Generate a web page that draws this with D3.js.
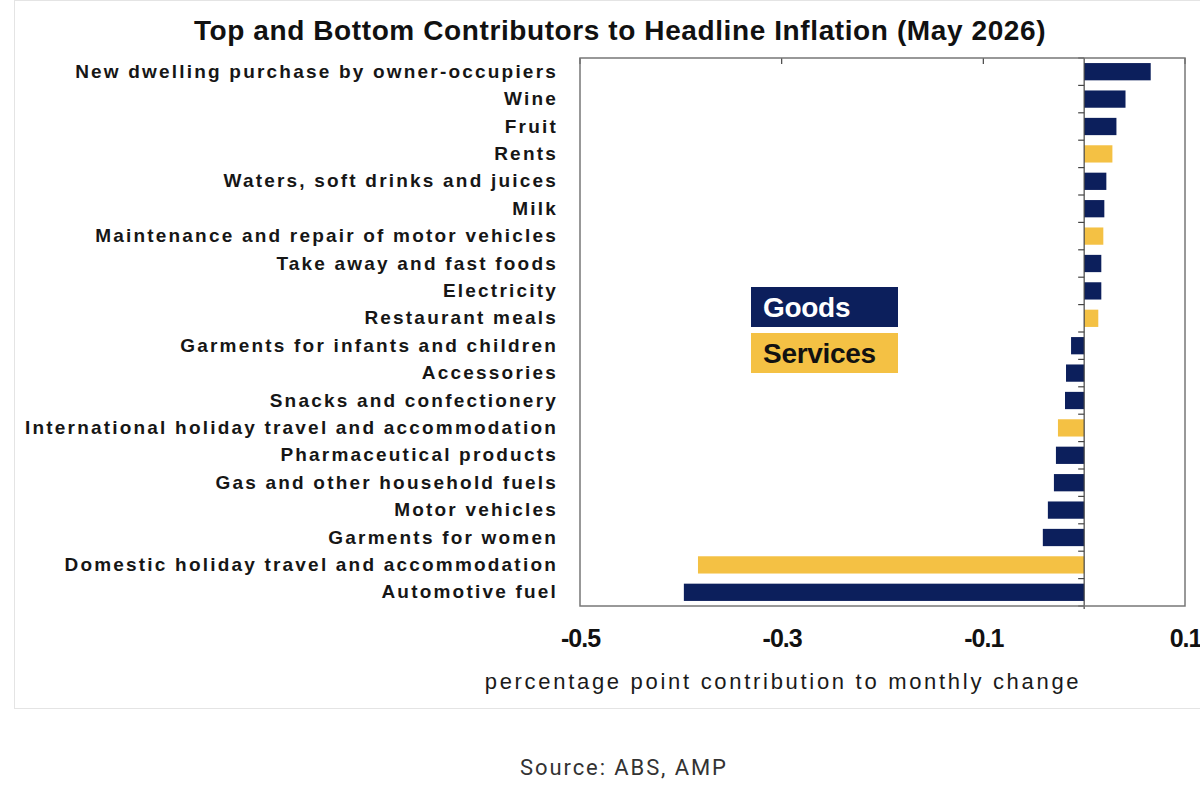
<!DOCTYPE html>
<html>
<head>
<meta charset="utf-8">
<script src="https://cdn.jsdelivr.net/npm/d3@7"></script>
<style>
  body { margin: 0; background: #fff; }
  svg text { font-family: "Liberation Sans", Arial, sans-serif; }
</style>
</head>
<body>
<div id="chart"></div>
<script>
// categories, top to bottom
var categories = [
  "New dwelling purchase by owner-occupiers", "Wine", "Fruit", "Rents",
  "Waters, soft drinks and juices", "Milk", "Maintenance and repair of motor vehicles",
  "Take away and fast foods", "Electricity", "Restaurant meals",
  "Garments for infants and children", "Accessories", "Snacks and confectionery",
  "International holiday travel and accommodation", "Pharmaceutical products",
  "Gas and other household fuels", "Motor vehicles", "Garments for women",
  "Domestic holiday travel and accommodation", "Automotive fuel"
];
var values = [0.066, 0.041, 0.032, 0.028, 0.022, 0.020, 0.019, 0.017, 0.017, 0.014,
  -0.013, -0.018, -0.019, -0.026, -0.028, -0.030, -0.036, -0.041, -0.383, -0.397];
var types = ["G", "G", "G", "S", "G", "G", "S", "G", "G", "S",
  "G", "G", "G", "S", "G", "G", "G", "G", "S", "G"];
var xTicks = [-0.5, -0.3, -0.1, 0.1];
var legendItems = ["Goods", "Services"];

var width = 1200, height = 786;
var margin = {top: 58, right: 15, bottom: 180, left: 580};
var navy = "#0c1f5c", gold = "#f4c144";

var data = categories.map(function(c, i) {
  return {cat: c, value: values[i], type: types[i]};
});

var svg = d3.select("#chart").append("svg")
  .attr("width", width)
  .attr("height", height);

// faint frame of the embedded image
svg.append("rect")
  .attr("x", 14.5).attr("y", 0.5)
  .attr("width", 1200).attr("height", 708)
  .attr("fill", "none").attr("stroke", "#e4e4e4");

var xScale = d3.scaleLinear()
  .domain([-0.5, 0.1])
  .range([margin.left, width - margin.right]);

var yScale = d3.scaleBand()
  .domain(categories)
  .range([margin.top, height - margin.bottom])
  .paddingInner(0.37)
  .paddingOuter(0.185);

// title
svg.append("text")
  .attr("x", 620).attr("y", 40)
  .attr("text-anchor", "middle")
  .attr("font-size", "28px")
  .attr("font-weight", "bold")
  .attr("fill", "#111")
  .attr("letter-spacing", "0.6px")
  .text("Top and Bottom Contributors to Headline Inflation (May 2026)");

// bars
svg.selectAll(".bar")
  .data(data)
  .enter()
  .append("rect")
  .attr("class", "bar")
  .attr("x", function(d) { return xScale(Math.min(0, d.value)); })
  .attr("y", function(d) { return yScale(d.cat); })
  .attr("width", function(d) { return Math.abs(xScale(d.value) - xScale(0)); })
  .attr("height", yScale.bandwidth())
  .attr("fill", function(d) { return d.type == "G" ? navy : gold; });

// zero line with small ticks between categories
var yTickPos = d3.range(categories.length + 1).map(function(i) {
  return margin.top + i * (height - margin.bottom - margin.top) / categories.length;
});
svg.append("line")
  .attr("x1", xScale(0)).attr("x2", xScale(0))
  .attr("y1", margin.top).attr("y2", height - margin.bottom + 3)
  .attr("stroke", "#444").attr("stroke-width", 1.2);
svg.selectAll(".ytick")
  .data(yTickPos)
  .enter()
  .append("line")
  .attr("class", "ytick")
  .attr("x1", xScale(0) - 6).attr("x2", xScale(0))
  .attr("y1", function(d) { return d; }).attr("y2", function(d) { return d; })
  .attr("stroke", "#444").attr("stroke-width", 1.2);

// top ticks
svg.selectAll(".xtick")
  .data(xTicks)
  .enter()
  .append("line")
  .attr("class", "xtick")
  .attr("x1", function(d) { return xScale(d); })
  .attr("x2", function(d) { return xScale(d); })
  .attr("y1", margin.top).attr("y2", margin.top + 6)
  .attr("stroke", "#444").attr("stroke-width", 1.2);

// plot border
svg.append("rect")
  .attr("x", margin.left).attr("y", margin.top)
  .attr("width", width - margin.right - margin.left)
  .attr("height", height - margin.bottom - margin.top)
  .attr("fill", "none")
  .attr("stroke", "#777")
  .attr("stroke-width", 1.5);

// x axis labels
var xAxis = d3.axisBottom(xScale)
  .tickValues(xTicks)
  .tickSize(0)
  .tickPadding(23)
  .tickFormat(function(d) { return d.toFixed(1); });

svg.append("g")
  .attr("transform", `translate(0, ${height - margin.bottom})`)
  .attr("class", "x-axis")
  .call(xAxis)
  .call(function(g) { g.select(".domain").remove(); })
  .selectAll("text")
  .attr("font-size", "25px")
  .attr("font-weight", "bold")
  .attr("letter-spacing", "-1px")
  .attr("fill", "#111");

// category labels
var yAxis = d3.axisLeft(yScale).tickSize(0).tickPadding(22);
svg.append("g")
  .attr("transform", `translate(${margin.left}, 0)`)
  .attr("class", "y-axis")
  .call(yAxis)
  .call(function(g) { g.select(".domain").remove(); })
  .selectAll("text")
  .attr("font-size", "19px")
  .attr("font-weight", "bold")
  .attr("letter-spacing", "2.2px")
  .attr("fill", "#161616");

// axis title
svg.append("text")
  .attr("x", 783).attr("y", 689)
  .attr("text-anchor", "middle")
  .attr("font-size", "22px")
  .attr("fill", "#1a1a1a")
  .attr("letter-spacing", "2.7px")
  .text("percentage point contribution to monthly change");

// legend
var legend = svg.selectAll(".legend")
  .data(legendItems)
  .enter()
  .append("g")
  .attr("class", "legend")
  .attr("transform", function(d, i) { return `translate(751, ${287 + i * 46})`; });
legend.append("rect")
  .attr("width", 147).attr("height", 40)
  .attr("fill", function(d, i) { return i == 0 ? navy : gold; });
legend.append("text")
  .attr("x", 12).attr("y", 30)
  .attr("font-size", "28px")
  .attr("font-weight", "bold")
  .attr("letter-spacing", "-0.3px")
  .attr("fill", function(d, i) { return i == 0 ? "#fff" : "#111"; })
  .text(function(d) { return d; });

// source
svg.append("text")
  .attr("x", 623).attr("y", 775)
  .attr("text-anchor", "middle")
  .attr("font-size", "22px")
  .attr("fill", "#333")
  .style("font-family", "Roboto, sans-serif")
  .attr("textLength", 206)
  .text("Source: ABS, AMP");
</script>
</body>
</html>
